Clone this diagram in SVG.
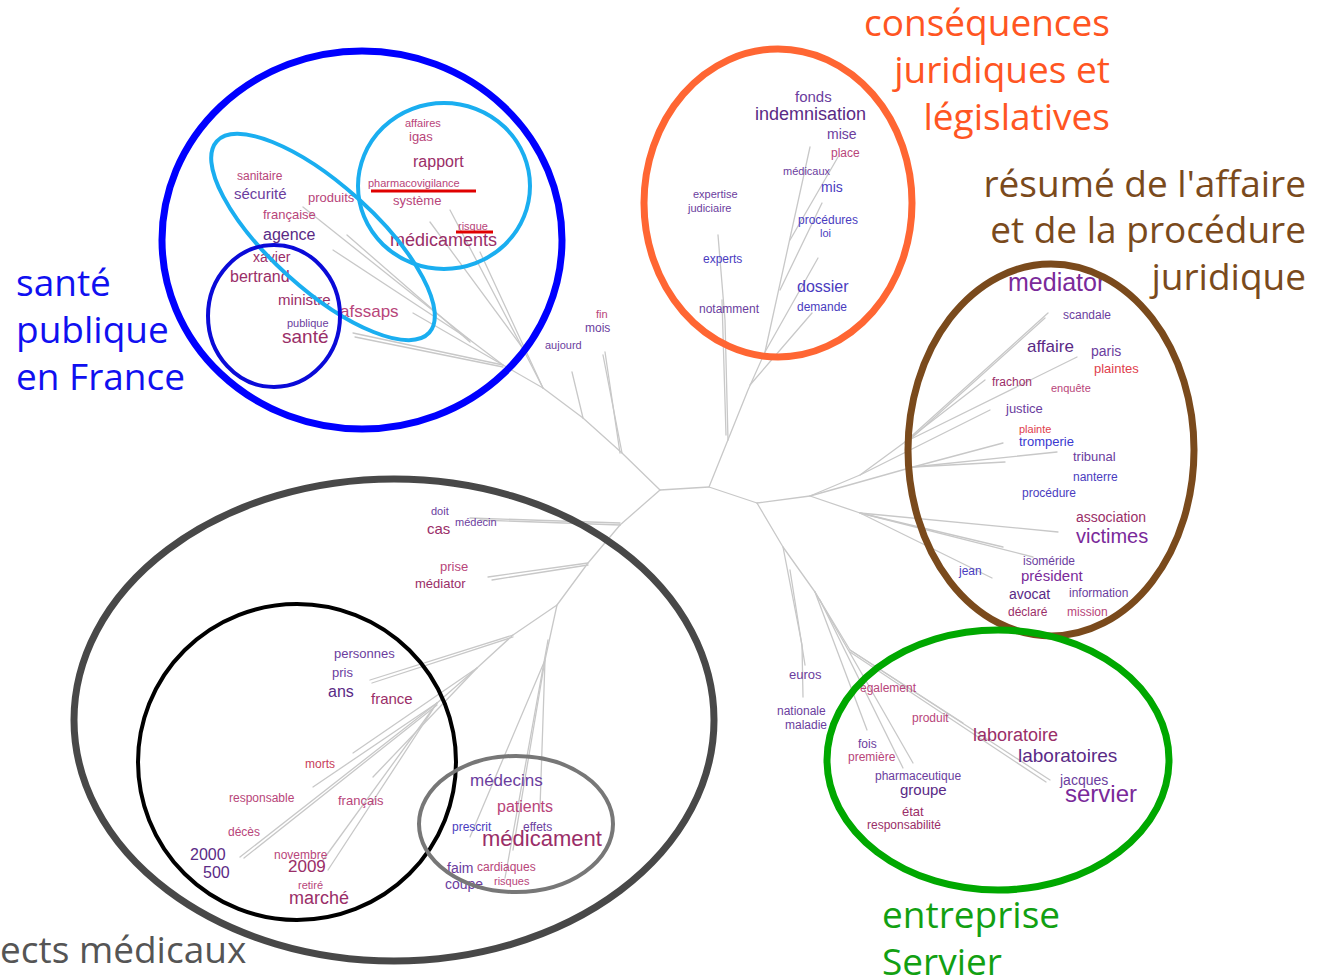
<svg xmlns="http://www.w3.org/2000/svg" width="1322" height="977" viewBox="0 0 1322 977">
<style>
.t{font-family:"Liberation Sans",Arial,sans-serif}
.L{font-family:"Open Sans","Liberation Sans",sans-serif;font-size:37px}
.pu{fill:#6b3d9e}.bp{fill:#4a3cc0}.dp{fill:#5a2a86}.mg{fill:#9a2e68}.pk{fill:#b8457a}.rd{fill:#e0404c}.vi{fill:#7a2a9a}
.br{fill:none;stroke:#c8c8c8;stroke-width:1.3;stroke-linejoin:round;stroke-linecap:round}
.ring{fill:none}
</style>
<rect width="1322" height="977" fill="#fff"/>
<g id="tree" class="br">
<polyline points="620,525 660,490 709,487 757,503"/>
<polyline points="660,490 622,453 583,418 543,388 503,365 353,333"/>
<polyline points="503,367 355,337"/>
<polyline points="503,365 413,313"/>
<polyline points="503,365 470,340 333,250"/>
<polyline points="470,340 303,207"/>
<polyline points="470,342 347,235"/>
<polyline points="543,388 522,347 430,222"/>
<polyline points="522,347 450,210"/>
<polyline points="543,388 480,252"/>
<polyline points="622,453 603,355"/>
<polyline points="620,453 605,352"/>
<polyline points="583,418 572,372"/>
<polyline points="709,487 748,390 765,352 810,147"/>
<polyline points="790,240 838,157"/>
<polyline points="780,290 822,203"/>
<polyline points="765,352 818,258"/>
<polyline points="750,385 812,313"/>
<polyline points="728,440 725,320 718,235"/>
<polyline points="726,435 722,300"/>
<polyline points="757,503 810,496 860,475 905,442 1048,313"/>
<polyline points="905,444 1045,318"/>
<polyline points="905,442 985,380"/>
<polyline points="905,442 1077,357"/>
<polyline points="860,475 990,410"/>
<polyline points="810,496 913,467 1003,443"/>
<polyline points="913,467 1057,452"/>
<polyline points="913,467 1005,462"/>
<polyline points="810,496 860,513 1058,532"/>
<polyline points="860,513 1003,547"/>
<polyline points="860,513 1033,557"/>
<polyline points="860,513 992,578"/>
<polyline points="757,503 783,547 815,592 850,650 1050,780"/>
<polyline points="850,652 1046,782"/>
<polyline points="815,592 867,730"/>
<polyline points="815,592 913,763"/>
<polyline points="820,600 903,768"/>
<polyline points="850,650 963,723"/>
<polyline points="783,547 802,645 803,697"/>
<polyline points="790,570 805,665"/>
<polyline points="620,525 588,563 557,605 513,635 477,668 437,703 240,857"/>
<polyline points="437,705 244,858"/>
<polyline points="620,525 480,520"/>
<polyline points="620,523 470,518"/>
<polyline points="588,563 488,577"/>
<polyline points="588,565 492,580"/>
<polyline points="513,635 370,680"/>
<polyline points="513,637 372,683"/>
<polyline points="477,668 353,753"/>
<polyline points="437,703 313,787"/>
<polyline points="437,703 323,860"/>
<polyline points="437,703 328,870"/>
<polyline points="477,668 373,777"/>
<polyline points="557,605 545,660 540,808"/>
<polyline points="545,660 513,850"/>
<polyline points="545,660 470,837"/>
<polyline points="548,640 505,878"/>
</g>

<g id="words" class="t">
<text x="405" y="127" font-size="11" class="pk">affaires</text>
<text x="409" y="141" font-size="13" class="pk">igas</text>
<text x="413" y="167" font-size="16" class="mg">rapport</text>
<text x="368" y="187" font-size="11" class="pk">pharmacovigilance</text>
<text x="393" y="205" font-size="13" class="pk">système</text>
<text x="458" y="230" font-size="11" class="pk">risque</text>
<text x="390" y="246" font-size="18" class="mg">médicaments</text>
<text x="237" y="180" font-size="12" class="pk">sanitaire</text>
<text x="234" y="199" font-size="15" class="pu">sécurité</text>
<text x="308" y="202" font-size="13" class="pk">produits</text>
<text x="263" y="219" font-size="13" class="pk">française</text>
<text x="263" y="240" font-size="16" class="dp">agence</text>
<text x="253" y="262" font-size="14" class="mg">xavier</text>
<text x="230" y="282" font-size="16" class="mg">bertrand</text>
<text x="278" y="305" font-size="15" class="mg">ministre</text>
<text x="340" y="317" font-size="17" class="pk">afssaps</text>
<text x="287" y="327" font-size="11" class="pu">publique</text>
<text x="282" y="343" font-size="19" class="mg">santé</text>
<text x="795" y="102" font-size="15" class="pu">fonds</text>
<text x="755" y="120" font-size="18" class="dp">indemnisation</text>
<text x="827" y="139" font-size="14" class="pu">mise</text>
<text x="831" y="157" font-size="12" class="pk">place</text>
<text x="783" y="175" font-size="11" class="pu">médicaux</text>
<text x="821" y="192" font-size="14" class="bp">mis</text>
<text x="693" y="198" font-size="11" class="pu">expertise</text>
<text x="688" y="212" font-size="11" class="pu">judiciaire</text>
<text x="798" y="224" font-size="12" class="bp">procédures</text>
<text x="820" y="237" font-size="11" class="bp">loi</text>
<text x="703" y="263" font-size="12" class="bp">experts</text>
<text x="797" y="292" font-size="16" class="bp">dossier</text>
<text x="797" y="311" font-size="12" class="bp">demande</text>
<text x="699" y="313" font-size="12" class="pu">notamment</text>
<text x="596" y="318" font-size="11" class="pk">fin</text>
<text x="585" y="332" font-size="12" class="pu">mois</text>
<text x="545" y="349" font-size="11" class="pu">aujourd</text>
<text x="1008" y="291" font-size="25" class="vi">mediator</text>
<text x="1063" y="319" font-size="12" class="pu">scandale</text>
<text x="1027" y="352" font-size="17" class="dp">affaire</text>
<text x="1091" y="356" font-size="14" class="pu">paris</text>
<text x="1094" y="373" font-size="13" class="rd">plaintes</text>
<text x="992" y="386" font-size="12" class="mg">frachon</text>
<text x="1051" y="392" font-size="11" class="pk">enquête</text>
<text x="1006" y="413" font-size="13" class="pu">justice</text>
<text x="1019" y="433" font-size="11" class="rd">plainte</text>
<text x="1019" y="446" font-size="13" fill="#3a3ad0">tromperie</text>
<text x="1073" y="461" font-size="13" class="pu">tribunal</text>
<text x="1073" y="481" font-size="12" class="bp">nanterre</text>
<text x="1022" y="497" font-size="12" class="bp">procédure</text>
<text x="1076" y="522" font-size="14" class="mg">association</text>
<text x="1076" y="543" font-size="20" class="vi">victimes</text>
<text x="1023" y="565" font-size="12" class="pu">isoméride</text>
<text x="959" y="575" font-size="12" class="bp">jean</text>
<text x="1021" y="581" font-size="15" class="vi">président</text>
<text x="1009" y="599" font-size="14" class="dp">avocat</text>
<text x="1069" y="597" font-size="12" class="pu">information</text>
<text x="1008" y="616" font-size="12" class="mg">déclaré</text>
<text x="1067" y="616" font-size="12" class="pk">mission</text>
<text x="789" y="679" font-size="13" class="pu">euros</text>
<text x="860" y="692" font-size="12" class="pk">également</text>
<text x="777" y="715" font-size="12" class="pu">nationale</text>
<text x="785" y="729" font-size="12" class="pu">maladie</text>
<text x="912" y="722" font-size="12" class="pk">produit</text>
<text x="973" y="741" font-size="18" class="mg">laboratoire</text>
<text x="858" y="748" font-size="12" class="pu">fois</text>
<text x="848" y="761" font-size="12" class="pk">première</text>
<text x="1018" y="762" font-size="19" class="dp">laboratoires</text>
<text x="875" y="780" font-size="12" class="pu">pharmaceutique</text>
<text x="900" y="795" font-size="15" class="dp">groupe</text>
<text x="1060" y="785" font-size="14" class="pu">jacques</text>
<text x="1065" y="802" font-size="24" class="vi">servier</text>
<text x="902" y="816" font-size="13" class="mg">état</text>
<text x="867" y="829" font-size="12" class="mg">responsabilité</text>
<text x="431" y="515" font-size="11" class="pu">doit</text>
<text x="455" y="526" font-size="11" class="pu">médecin</text>
<text x="427" y="534" font-size="15" class="mg">cas</text>
<text x="440" y="571" font-size="13" class="pk">prise</text>
<text x="415" y="588" font-size="13" class="mg">médiator</text>
<text x="334" y="658" font-size="13" class="pu">personnes</text>
<text x="332" y="677" font-size="13" class="pu">pris</text>
<text x="328" y="697" font-size="16" class="dp">ans</text>
<text x="371" y="704" font-size="15" class="mg">france</text>
<text x="305" y="768" font-size="12" style="fill:#c8405a">morts</text>
<text x="229" y="802" font-size="12" class="pk">responsable</text>
<text x="338" y="805" font-size="13" class="pk">français</text>
<text x="228" y="836" font-size="12" class="pk">décès</text>
<text x="190" y="860" font-size="16" class="dp">2000</text>
<text x="274" y="859" font-size="12" class="pk">novembre</text>
<text x="288" y="872" font-size="17" class="mg">2009</text>
<text x="203" y="878" font-size="16" class="dp">500</text>
<text x="298" y="889" font-size="11" class="pk">retiré</text>
<text x="289" y="904" font-size="18" class="mg">marché</text>
<text x="470" y="786" font-size="17" class="pu">médecins</text>
<text x="497" y="812" font-size="16" class="pk">patients</text>
<text x="452" y="831" font-size="12" class="bp">prescrit</text>
<text x="523" y="831" font-size="12" class="pu">effets</text>
<text x="482" y="846" font-size="22" class="mg">médicament</text>
<text x="447" y="873" font-size="14" class="pu">faim</text>
<text x="477" y="871" font-size="12" class="pk">cardiaques</text>
<text x="445" y="889" font-size="14" class="pu">coupe</text>
<text x="494" y="885" font-size="11" class="pk">risques</text>
</g>

<g id="underlines" stroke="#e00000" stroke-width="3">
<line x1="371" y1="191" x2="476" y2="191"/>
<line x1="456" y1="232" x2="493" y2="232"/>
</g>

<g id="group-sante">
<ellipse class="ring" cx="362" cy="240" rx="200" ry="189" stroke="#0000ff" stroke-width="7"/>
<ellipse class="ring" cx="323" cy="237" rx="143" ry="52" transform="rotate(42 323 237)" stroke="#1aaef0" stroke-width="4"/>
<ellipse class="ring" cx="444" cy="186" rx="86" ry="83" stroke="#1aaef0" stroke-width="4"/>
<ellipse class="ring" cx="274" cy="316" rx="66" ry="71" stroke="#0a0ad8" stroke-width="4"/>
<text class="L" x="16" y="296" fill="#1010f0">santé</text>
<text class="L" x="16" y="343" fill="#1010f0">publique</text>
<text class="L" x="16" y="390" fill="#1010f0">en France</text>
</g>
<g id="group-consequences">
<ellipse class="ring" cx="778" cy="203" rx="134" ry="154" stroke="#ff6633" stroke-width="7"/>
<text class="L" x="1110" y="36" text-anchor="end" fill="#ff5522">conséquences</text>
<text class="L" x="1110" y="83" text-anchor="end" fill="#ff5522">juridiques et</text>
<text class="L" x="1110" y="130" text-anchor="end" fill="#ff5522">législatives</text>
</g>
<g id="group-resume">
<ellipse class="ring" cx="1051" cy="450" rx="143" ry="186" stroke="#7a4a1c" stroke-width="7"/>
<text class="L" x="1306" y="197" text-anchor="end" fill="#7a4a1c">résumé de l'affaire</text>
<text class="L" x="1306" y="243" text-anchor="end" fill="#7a4a1c">et de la procédure</text>
<text class="L" x="1306" y="290" text-anchor="end" fill="#7a4a1c">juridique</text>
</g>
<g id="group-servier">
<ellipse class="ring" cx="998" cy="760" rx="171" ry="130" stroke="#00a800" stroke-width="7"/>
<text class="L" x="882" y="928" fill="#12a012">entreprise</text>
<text class="L" x="882" y="975" fill="#12a012">Servier</text>
</g>
<g id="group-medicaux">
<ellipse class="ring" cx="394" cy="720" rx="320" ry="241" stroke="#484848" stroke-width="7"/>
<ellipse class="ring" cx="297" cy="762" rx="159" ry="158" stroke="#000" stroke-width="4"/>
<ellipse class="ring" cx="516" cy="824" rx="97" ry="68" stroke="#777" stroke-width="4"/>
<text class="L" x="0" y="963" fill="#555">ects médicaux</text>
</g>
</svg>
